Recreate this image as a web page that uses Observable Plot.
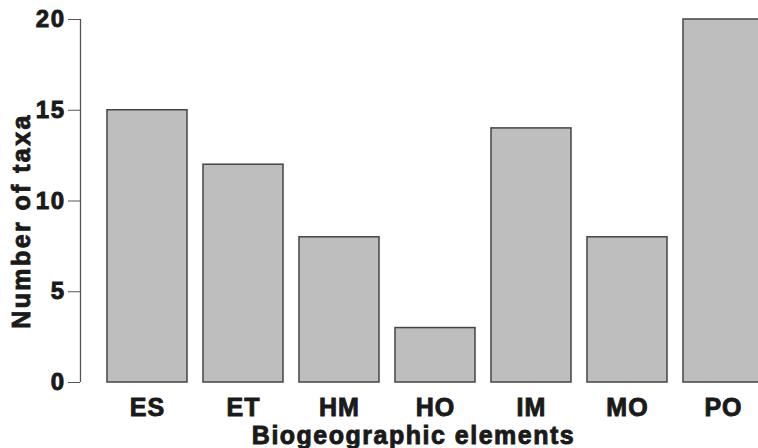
<!DOCTYPE html>
<html>
<head>
<meta charset="utf-8">
<script src="https://cdn.jsdelivr.net/npm/d3@7"></script>
<script src="https://cdn.jsdelivr.net/npm/@observablehq/plot@0.6"></script>
<style>
  html, body { margin: 0; padding: 0; background: white; overflow: hidden; }
  #chart svg text { font-family: "Liberation Sans", Arial, sans-serif; font-weight: bold; stroke: #1a1a1a; stroke-width: 0.9px; fill: #1a1a1a; }
  #chart svg .ytick text { letter-spacing: 1.5px; }
  #chart svg .xtick text { letter-spacing: 1px; }
  #chart svg .ytitle text { letter-spacing: 2.4px; }
  #chart svg .xtitle text { letter-spacing: 1.5px; }
</style>
</head>
<body>
<div id="chart"></div>
<script>
const categories = ["ES", "ET", "HM", "HO", "IM", "MO", "PO"];
const counts = [15, 12, 8, 3, 14, 8, 20];
const yTicks = [0, 5, 10, 15, 20];
const xTitle = "Biogeographic elements";
const yTitle = "Number of taxa";

const data = categories.map((c, i) => ({element: c, taxa: counts[i]}));

const chart = Plot.plot({
  width: 758,
  height: 448,
  marginLeft: 80,
  marginRight: 0,
  marginTop: 19,
  marginBottom: 66,
  style: {background: "white", overflow: "hidden"},
  x: {domain: categories, range: [91, 779], paddingInner: 0.1667, paddingOuter: 0.1667, round: false},
  y: {domain: [0, 20]},
  marks: [
    Plot.barY(data, {x: "element", y: "taxa", fill: "#bebebe", stroke: "#444", strokeWidth: 1.5}),
    Plot.ruleX([0], {x: null, y1: 0, y2: 20, stroke: "#555", strokeWidth: 1.3, dx: -339}),
    Plot.axisY(yTicks, {anchor: "left", tickSize: 12, tickPadding: 3, fontSize: 24, stroke: "#555", label: null, className: "ytick"}),
    Plot.axisX({anchor: "bottom", tickSize: 0, tickPadding: 16, fontSize: 25, label: null, className: "xtick"}),
    Plot.text([yTitle], {frameAnchor: "left", dx: -59, dy: 20, rotate: -90, fontSize: 25, text: d => d, textAnchor: "middle", lineAnchor: "middle", className: "ytitle"}),
    Plot.text([xTitle], {frameAnchor: "bottom", dx: -6, dy: 53, fontSize: 25, text: d => d, textAnchor: "middle", lineAnchor: "middle", className: "xtitle"})
  ]
});
document.getElementById("chart").appendChild(chart);
</script>
</body>
</html>
